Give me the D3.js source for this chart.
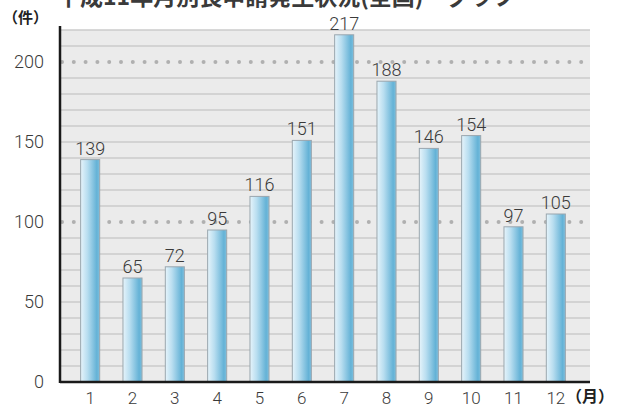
<!DOCTYPE html>
<html>
<head>
<meta charset="utf-8">
<script src="https://cdn.jsdelivr.net/npm/d3@7"></script>
<style>
  body { margin: 0; background: #fff; }
  svg { display: block; }
  .tick text { font-family: Roboto, "Liberation Sans", sans-serif; font-weight: 300; }
</style>
</head>
<body>
<div id="chart"></div>
<script>
// data
const months = ["1", "2", "3", "4", "5", "6", "7", "8", "9", "10", "11", "12"];
const counts = [139, 65, 72, 95, 116, 151, 217, 188, 146, 154, 97, 105];
const yTicks = [0, 50, 100, 150, 200];
const dottedLines = [100, 200];

const width = 618;
const height = 408;
const margin = {top: 30, left: 60, right: 28, bottom: 26};

const svg = d3.select("#chart")
    .append("svg")
    .attr("width", width)
    .attr("height", height);

const defs = svg.append("defs");
const grad = defs.append("linearGradient")
    .attr("id", "barGrad")
    .attr("x1", "0%").attr("x2", "100%")
    .attr("y1", "0%").attr("y2", "0%");
grad.append("stop").attr("offset", "0%").attr("stop-color", "#e6f4fb");
grad.append("stop").attr("offset", "35%").attr("stop-color", "#b9def0");
grad.append("stop").attr("offset", "85%").attr("stop-color", "#64b2d6");
grad.append("stop").attr("offset", "100%").attr("stop-color", "#7fc0de");

const yScale = d3.scaleLinear()
    .domain([0, 220])
    .range([height - margin.bottom, margin.top]);

const xScale = d3.scaleBand()
    .domain(months)
    .range([69, 577])
    .paddingInner(0.55)
    .paddingOuter(0.275);

// title, mostly cut off by the top edge
svg.append("text")
    .attr("x", 57)
    .attr("y", 5)
    .attr("font-family", "Noto Sans CJK JP")
    .attr("font-weight", "bold")
    .attr("font-size", 23)
    .attr("fill", "#3a3a3a")
    .text("平成11年月別長申請発生状況(全国)　グラフ");

// plot background
svg.append("rect")
    .attr("x", margin.left)
    .attr("y", yScale(220))
    .attr("width", width - margin.right - margin.left)
    .attr("height", yScale(0) - yScale(220))
    .attr("fill", "#ebebeb");

// solid grid every 10
const gridVals = d3.range(10, 221, 10).filter(v => dottedLines.indexOf(v) < 0);
svg.append("g")
    .selectAll("line")
    .data(gridVals)
    .enter()
    .append("line")
    .attr("x1", margin.left)
    .attr("x2", width - margin.right)
    .attr("y1", d => yScale(d))
    .attr("y2", d => yScale(d))
    .attr("stroke", "#cbcbcb")
    .attr("stroke-width", 1.5);

// dotted lines at 100 and 200
svg.append("g")
    .selectAll("line")
    .data(dottedLines)
    .enter()
    .append("line")
    .attr("x1", margin.left + 2)
    .attr("x2", width - margin.right)
    .attr("y1", d => yScale(d))
    .attr("y2", d => yScale(d))
    .attr("stroke", "#b0b0b0")
    .attr("stroke-width", 4)
    .attr("stroke-linecap", "round")
    .attr("stroke-dasharray", "0 11.8");

// bars
svg.append("g")
    .selectAll("rect")
    .data(counts)
    .enter()
    .append("rect")
    .attr("x", (d, i) => xScale(months[i]))
    .attr("y", d => yScale(d))
    .attr("width", xScale.bandwidth())
    .attr("height", d => yScale(0) - yScale(d))
    .attr("fill", "url(#barGrad)")
    .attr("stroke", "#9aa6ae")
    .attr("stroke-width", 1);

// value labels
svg.append("g")
    .selectAll("text")
    .data(counts)
    .enter()
    .append("text")
    .attr("x", (d, i) => xScale(months[i]) + xScale.bandwidth() / 2)
    .attr("y", d => yScale(d) - 5)
    .attr("text-anchor", "middle")
    .attr("font-family", "Roboto, Liberation Sans, sans-serif")
    .attr("font-weight", 300)
    .attr("font-size", 18)
    .attr("fill", "#3a3a3a")
    .text(d => d);

// axes
const yAxis = svg.append("g")
    .attr("transform", `translate(${margin.left},0)`)
    .call(d3.axisLeft(yScale).tickValues(yTicks).tickSize(0).tickPadding(16));
yAxis.select(".domain").remove();
yAxis.selectAll(".tick text")
    .attr("font-size", 18)
    .attr("fill", "#3a3a3a");

const xAxis = svg.append("g")
    .attr("transform", `translate(0,${height - margin.bottom})`)
    .call(d3.axisBottom(xScale).tickSize(0).tickPadding(10));
xAxis.select(".domain").remove();
xAxis.selectAll(".tick text")
    .attr("font-size", 17)
    .attr("fill", "#3a3a3a");

svg.append("line")
    .attr("x1", margin.left)
    .attr("x2", margin.left)
    .attr("y1", 26)
    .attr("y2", yScale(0) + 1)
    .attr("stroke", "#1a1a1a")
    .attr("stroke-width", 2.5);

svg.append("line")
    .attr("x1", margin.left)
    .attr("x2", width - margin.right)
    .attr("y1", yScale(0))
    .attr("y2", yScale(0))
    .attr("stroke", "#1a1a1a")
    .attr("stroke-width", 2.5);

// unit labels
svg.append("text")
    .attr("x", 3)
    .attr("y", 23)
    .attr("font-family", "Noto Sans CJK JP")
    .attr("font-weight", "bold")
    .attr("font-size", 15)
    .attr("fill", "#222")
    .text("（件）");

svg.append("text")
    .attr("x", 566)
    .attr("y", 402)
    .attr("font-family", "Noto Sans CJK JP")
    .attr("font-weight", "bold")
    .attr("font-size", 16)
    .attr("fill", "#222")
    .text("（月）");
</script>
</body>
</html>
